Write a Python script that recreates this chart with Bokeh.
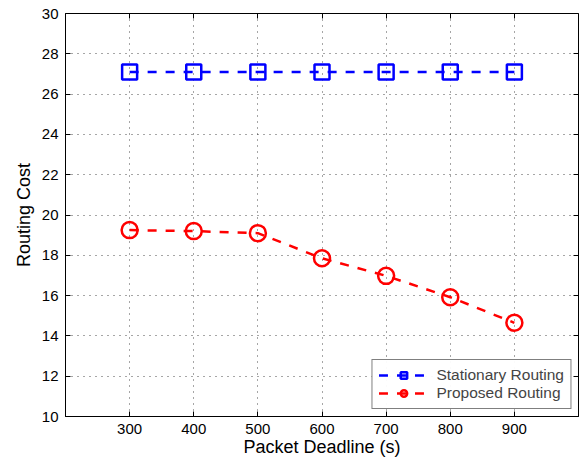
from bokeh.plotting import figure
from bokeh.models import Range1d, FixedTicker, LinearAxis, Legend, LegendItem
from bokeh.embed import file_html
from bokeh.resources import INLINE

deadlines = [300, 400, 500, 600, 700, 800, 900]
stationary = [27.1, 27.1, 27.1, 27.1, 27.1, 27.1, 27.1]
proposed = [19.25, 19.2, 19.1, 17.85, 16.98, 15.92, 14.65]
x_ticks = [300, 400, 500, 600, 700, 800, 900]
y_ticks = [10, 12, 14, 16, 18, 20, 22, 24, 26, 28, 30]

FONT = "Liberation Sans"

p = figure(width=583, height=460, output_backend="svg", toolbar_location=None,
           x_range=Range1d(200, 1000), y_range=Range1d(10, 30))
p.min_border_left = 65
p.min_border_right = 5
p.min_border_top = 13
p.min_border_bottom = 44
p.outline_line_color = "black"
p.outline_line_width = 1
p.outline_line_alpha = 1

for ax in (p.xaxis[0], p.yaxis[0]):
    ax.major_tick_in = 5
    ax.major_tick_out = 0
    ax.minor_tick_line_color = None
    ax.axis_line_color = "black"
    ax.major_label_text_font = FONT
    ax.major_label_text_font_size = "15px"
    ax.major_label_text_color = "black"
    ax.axis_label_text_font = FONT
    ax.axis_label_text_font_size = "18px"
    ax.axis_label_text_font_style = "normal"
    ax.axis_label_text_color = "black"

p.xaxis.ticker = FixedTicker(ticks=x_ticks)
p.yaxis.ticker = FixedTicker(ticks=y_ticks)
p.xaxis.axis_label = "Packet Deadline (s)"
p.yaxis.axis_label = "Routing Cost"
p.xaxis.major_label_standoff = 7
p.xaxis.axis_label_standoff = 0
p.yaxis.major_label_standoff = 7
p.yaxis.axis_label_standoff = 5

for loc, tk in (("above", x_ticks), ("right", y_ticks)):
    ax = LinearAxis(ticker=FixedTicker(ticks=tk))
    ax.major_tick_in = 5
    ax.major_tick_out = 0
    ax.minor_tick_line_color = None
    ax.axis_line_color = None
    ax.major_label_overrides = {t: "" for t in tk}
    ax.major_label_standoff = 0
    p.add_layout(ax, loc)

for g in (p.xgrid[0], p.ygrid[0]):
    g.grid_line_color = "black"
    g.grid_line_dash = "1 5"
    g.grid_line_width = 1
    g.grid_line_alpha = 0.7
p.xgrid.ticker = FixedTicker(ticks=x_ticks)
p.ygrid.ticker = FixedTicker(ticks=y_ticks)

blue = "#0000ff"
red = "#ff0000"
l1 = p.line(deadlines, stationary, line_color=blue, line_width=2.5, line_dash="9 9")
s1 = p.scatter(deadlines, stationary, marker="square", size=15, fill_color=None,
               line_color=blue, line_width=2.5)
l2 = p.line(deadlines, proposed, line_color=red, line_width=2.5, line_dash="9 9")
s2 = p.scatter(deadlines, proposed, marker="circle", size=16, fill_color=None,
               line_color=red, line_width=2.5)

legend = Legend(items=[LegendItem(label="Stationary Routing", renderers=[l1, s1]),
                       LegendItem(label="Proposed Routing", renderers=[l2, s2])],
                location="bottom_right")
legend.label_text_font = FONT
legend.label_text_font_size = "15.5px"
legend.label_height = 16
legend.glyph_height = 16
legend.border_line_color = "black"
legend.border_line_width = 1
legend.margin = 7
legend.padding = 6
legend.spacing = 0
legend.glyph_width = 50
legend.label_standoff = 8
p.add_layout(legend)

open("out.html", "w").write(file_html(p, INLINE))
